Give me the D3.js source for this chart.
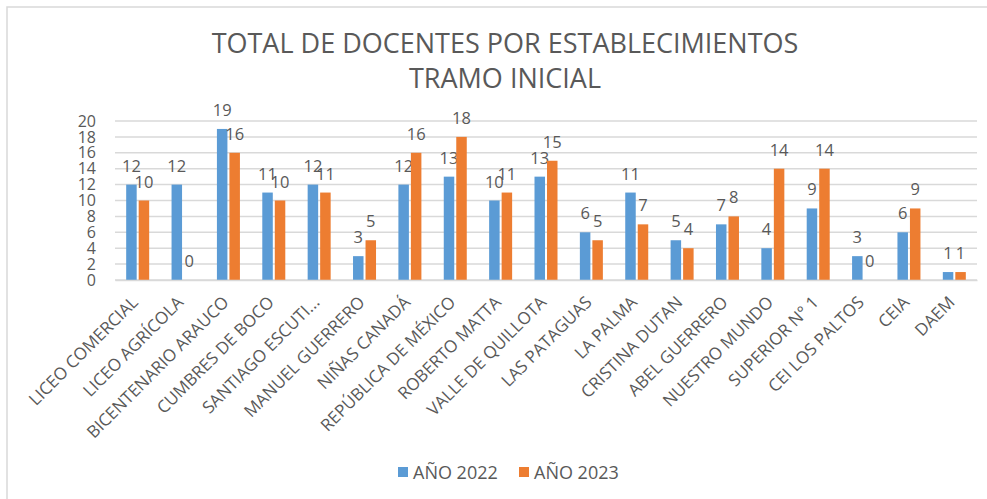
<!DOCTYPE html>
<html><head><meta charset="utf-8">
<script src="https://cdn.jsdelivr.net/npm/d3@7"></script>
<style>html,body{margin:0;padding:0;background:#fff;}svg{display:block;font-family:"Open Sans",sans-serif;}</style>
</head><body>
<svg id="c" width="987" height="499"></svg>
<script>
const categories = ["LICEO COMERCIAL","LICEO AGRÍCOLA","BICENTENARIO ARAUCO","CUMBRES DE BOCO","SANTIAGO ESCUTI...","MANUEL GUERRERO","NIÑAS CANADÁ","REPÚBLICA DE MÉXICO","ROBERTO MATTA","VALLE DE QUILLOTA","LAS PATAGUAS","LA PALMA","CRISTINA DUTAN","ABEL GUERRERO","NUESTRO MUNDO","SUPERIOR N° 1","CEI LOS PALTOS","CEIA","DAEM"];
const values2022 = [12,12,19,11,12,3,12,13,10,13,6,11,5,7,4,9,3,6,1];
const values2023 = [10,0,16,10,11,5,16,18,11,15,5,7,4,8,14,14,0,9,1];
const seriesNames = ["AÑO 2022","AÑO 2023"];
const seriesColors = ["#5B9BD5","#ED7D31"];
const yTicks = [0,2,4,6,8,10,12,14,16,18,20];
const titleLines = ["TOTAL DE DOCENTES POR ESTABLECIMIENTOS","TRAMO INICIAL"];

const svg = d3.select("#c");
const W = 987, H = 499;
const m = {left:115, right:10, top:121, bottom:219};
const x = d3.scaleBand().domain(categories).range([m.left, W - m.right]).paddingInner(0).paddingOuter(0);
const y = d3.scaleLinear().domain([0,20]).range([H - m.bottom, m.top]);
const txt = "#595959";

// frame
svg.append("path").attr("d", `M7,${H} L7,7 L${W},7`).attr("fill","none").attr("stroke","#d9d9d9").attr("stroke-width",1.5);

// title
svg.append("g").selectAll("text").data(titleLines).join("text")
  .attr("x", 505).attr("y", (d,i)=> 53 + i*35)
  .attr("text-anchor","middle").attr("fill",txt).attr("font-size",27)
  .text(d=>d);

// gridlines
svg.append("g").selectAll("line").data(yTicks).join("line")
  .attr("x1", m.left).attr("x2", W - m.right)
  .attr("y1", d=>y(d)).attr("y2", d=>y(d))
  .attr("stroke", "#d9d9d9").attr("stroke-width", 1.5);

// y axis labels
const yAxis = svg.append("g").attr("transform", `translate(${m.left-19},0)`)
  .call(d3.axisLeft(y).tickValues(yTicks).tickSize(0).tickPadding(0));
yAxis.select(".domain").remove();
yAxis.selectAll("text").attr("fill", txt).attr("font-size", 16).attr("font-family","Open Sans");

// bars
const bw = 10.5, off = 6.25;
const series = [values2022, values2023];
series.forEach((vals, si) => {
  const dx = si === 0 ? -off : off;
  const g = svg.append("g");
  g.selectAll("rect").data(vals).join("rect")
    .attr("x", (d,i)=> x(categories[i]) + x.bandwidth()/2 + dx - bw/2)
    .attr("y", d=> y(d))
    .attr("width", bw)
    .attr("height", d=> y(0) - y(d))
    .attr("fill", seriesColors[si]);
  g.selectAll("text").data(vals).join("text")
    .attr("x", (d,i)=> x(categories[i]) + x.bandwidth()/2 + dx)
    .attr("y", d=> y(d) - 13)
    .attr("text-anchor","middle").attr("fill", txt).attr("font-size", 16.5)
    .text(d=>d);
});

// x axis
const xAxis = svg.append("g").attr("transform", `translate(0,${y(0)})`)
  .call(d3.axisBottom(x).tickSize(0).tickPadding(0));
xAxis.select(".domain").attr("stroke","#d9d9d9").attr("stroke-width",1.5);
xAxis.selectAll("text")
  .attr("fill", txt).attr("font-size", 17).attr("font-family","Open Sans")
  .attr("text-anchor","end")
  .attr("dy", "0.7em")
  .attr("transform", "translate(-7,15) rotate(-45)");

// legend
const lg = svg.append("g");
const legendX = [398, 519];
seriesNames.forEach((n,i)=>{
  lg.append("rect").attr("x", legendX[i]).attr("y", 467).attr("width",10).attr("height",10).attr("fill", seriesColors[i]);
  lg.append("text").attr("x", legendX[i]+15).attr("y", 478.5).attr("fill", txt).attr("font-size", 18).text(n);
});
</script>
</body></html>
